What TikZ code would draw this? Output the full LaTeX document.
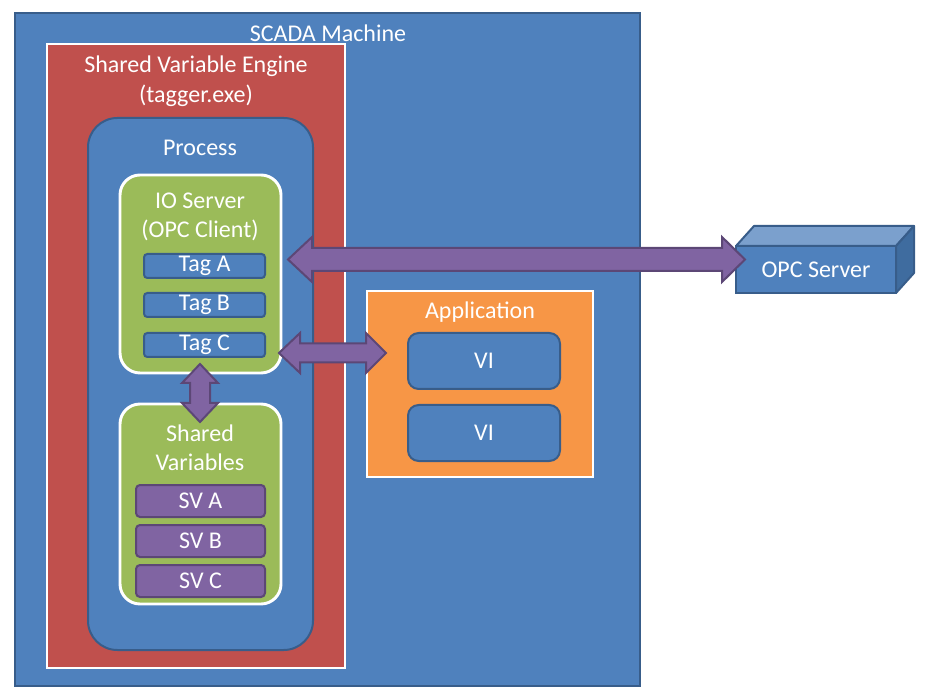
\documentclass[tikz,border=0pt]{standalone}
\usepackage{fontspec}
\setmainfont{Carlito}
\usetikzlibrary{fit}
\definecolor{bfill}{HTML}{4F81BD}
\definecolor{bline}{HTML}{385D8A}
\definecolor{rfill}{HTML}{C0504D}
\definecolor{gfill}{HTML}{9BBB59}
\definecolor{pfill}{HTML}{8064A2}
\definecolor{pline}{HTML}{5C4776}
\definecolor{ofill}{HTML}{F79646}
\definecolor{btop}{HTML}{7BA0CD}
\definecolor{bside}{HTML}{3F6C9F}
\tikzset{
  lbl/.style={text=white, font=\fontsize{18}{21}\selectfont, inner sep=0pt},
  fitbox/.style={inner sep=0pt, outer sep=0pt},
  machine/.style={fitbox, fill=bfill, draw=bline, line width=1.5pt},
  whitebox/.style={fitbox, draw=white, line width=2.2pt},
  procbox/.style={fitbox, fill=bfill, draw=bline, line width=1.5pt, rounded corners=22pt},
  greenbox/.style={fitbox, fill=gfill, draw=white, line width=2.2pt, rounded corners=15pt},
  tagbox/.style={fitbox, fill=bfill, draw=bline, line width=1.5pt, rounded corners=2.5pt},
  svbox/.style={fitbox, fill=pfill, draw=pline, line width=1.5pt, rounded corners=3pt},
  vibox/.style={fitbox, fill=bfill, draw=bline, line width=1.5pt, rounded corners=8pt},
  blockarrow/.style={fill=pfill, draw=pline, line width=1.5pt, line join=miter}
}
\begin{document}
\begin{tikzpicture}[x=0.75pt,y=-0.75pt]
\useasboundingbox (0,0) rectangle (928,698);
% SCADA machine
\node[machine, fit={(15,13)(640,686)}] (scada) {};
\node[lbl] (scadalbl) at (328,33) {SCADA Machine};
% Shared variable engine
\node[whitebox, fill=rfill, fit={(47,44)(345,668)}] (sve) {};
\node[lbl] (svel1) at (196,66) {Shared Variable Engine};
\node[lbl] (svel2) at (196,96) {(tagger.exe)};
% Process
\node[procbox, fit={(88,118)(313,650)}] (proc) {};
\node[lbl] (proclbl) at (200,148) {Process};
% IO Server
\node[greenbox, fit={(120,175)(281,373)}] (io) {};
\node[lbl] (iol1) at (200,201) {IO Server};
\node[lbl] (iol2) at (200,230) {(OPC Client)};
\node[tagbox, fit={(144,254)(265,278)}] (taga) {};
\node[lbl] at (taga.center) {Tag A};
\node[tagbox, fit={(144,293)(265,317)}] (tagb) {};
\node[lbl] at (tagb.center) {Tag B};
\node[tagbox, fit={(144,333)(265,357)}] (tagc) {};
\node[lbl] at (tagc.center) {Tag C};
% Shared Variables
\node[greenbox, fit={(120,404)(281,604)}] (sv) {};
\node[lbl] (svl1) at (200,433) {Shared};
\node[lbl] (svl2) at (200,462) {Variables};
\node[svbox, fit={(136,485)(265,517)}] (sva) {};
\node[lbl] at (sva.center) {SV A};
\node[svbox, fit={(136,525)(265,557)}] (svb) {};
\node[lbl] at (svb.center) {SV B};
\node[svbox, fit={(136,565)(265,597)}] (svc) {};
\node[lbl] at (svc.center) {SV C};
% Application
\node[whitebox, fill=ofill, fit={(367,291)(593,477)}] (app) {};
\node[lbl] (applbl) at (480,312) {Application};
\node[vibox, fit={(408,333)(560,389)}] (vi1) {};
\node[lbl] at (vi1.center) {VI};
\node[vibox, fit={(408,405)(560,461)}] (vi2) {};
\node[lbl] at (vi2.center) {VI};
% OPC Server 3D box
\fill[btop, draw=bline, line width=1.5pt, line join=round] (736,246) -- (754,226) -- (914,226) -- (896,246) -- cycle;
\fill[bside, draw=bline, line width=1.5pt, line join=round] (896,246) -- (914,226) -- (914,273) -- (896,293) -- cycle;
\node[machine, fit={(736,246)(896,293)}] (opc) {};
\node[lbl] at (opc.center) {OPC Server};
% Block arrows
\draw[blockarrow] (288,259.5) -- (312,237) -- (312,248) -- (722,248) -- (722,237) -- (745,259.5)
  -- (722,282) -- (722,271) -- (312,271) -- (312,282) -- cycle;
\draw[blockarrow] (279,353) -- (300,333) -- (300,343.5) -- (366,343.5) -- (366,333) -- (386,353)
  -- (366,373) -- (366,362.5) -- (300,362.5) -- (300,373) -- cycle;
\draw[blockarrow] (200,364) -- (218,383) -- (210,383) -- (210,403) -- (218,403) -- (200,422)
  -- (182,403) -- (190,403) -- (190,383) -- (182,383) -- cycle;
\end{tikzpicture}
\end{document}
